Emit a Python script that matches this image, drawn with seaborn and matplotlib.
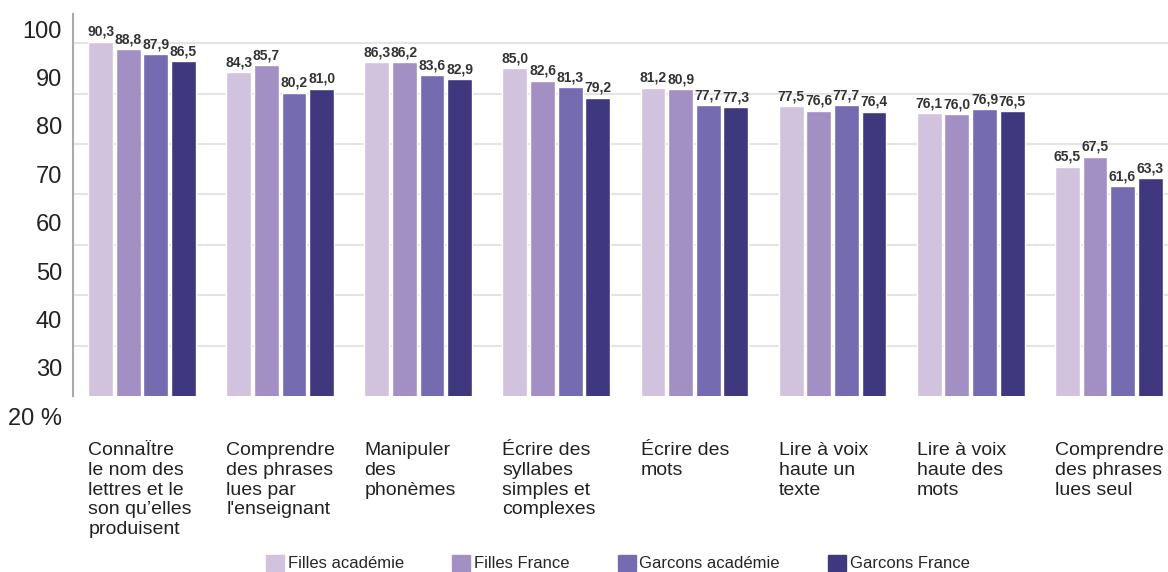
import matplotlib
matplotlib.use('Agg')
import matplotlib.pyplot as plt
import matplotlib.patches as mpatches
import seaborn as sns
import pandas as pd

categories = ["ConnaÏtre\nle nom des\nlettres et le\nson qu’elles\nproduisent",
              "Comprendre\ndes phrases\nlues par\nl'enseignant",
              "Manipuler\ndes\nphonèmes",
              "Écrire des\nsyllabes\nsimples et\ncomplexes",
              "Écrire des\nmots",
              "Lire à voix\nhaute un\ntexte",
              "Lire à voix\nhaute des\nmots",
              "Comprendre\ndes phrases\nlues seul"]
series = ["Filles académie", "Filles France", "Garcons académie", "Garcons France"]
filles_academie = [90.3, 84.3, 86.3, 85.0, 81.2, 77.5, 76.1, 65.5]
filles_france = [88.8, 85.7, 86.2, 82.6, 80.9, 76.6, 76.0, 67.5]
garcons_academie = [87.9, 80.2, 83.6, 81.3, 77.7, 77.7, 76.9, 61.6]
garcons_france = [86.5, 81.0, 82.9, 79.2, 77.3, 76.4, 76.5, 63.3]
ytick_labels = ["100", "90", "80", "70", "60", "50", "40", "30", "20 %"]
colors = ["#d1c3de", "#a28fc3", "#756bb0", "#3f387e"]

rows = []
for name, vals in zip(series, [filles_academie, filles_france, garcons_academie, garcons_france]):
  for cat, v in zip(categories, vals):
    rows.append({'cat': cat, 'serie': name, 'val': v})
df = pd.DataFrame(rows)

sns.set_style('white')
plt.rcParams['font.family'] = ['Liberation Sans', 'DejaVu Sans']

fig = plt.figure(figsize=(11.68, 5.72), dpi=100)
ax = fig.add_axes([73 / 1168, 1 - 396 / 572, 8 * 138.1 / 1168, (396 - 14) / 572])

sns.barplot(data=df, x='cat', y='val', hue='serie', hue_order=series, order=categories,
            palette=colors, width=0.8, gap=0.1, saturation=1, legend=False, ax=ax)

ax.set_xlim(-0.5, 7.5)
ax.set_ylim(20, 95.8)

for cont in ax.containers:
  ax.bar_label(cont, labels=[f"{v:.1f}".replace('.', ',') for v in cont.datavalues],
               padding=2, fontsize=10, fontweight='bold', color='#333333', clip_on=False)

# grid lines on minor ticks, labels drawn on their own (offset like the original)
ax.set_yticks([30, 40, 50, 60, 70, 80, 90], minor=True)
ax.set_yticks([])
ax.yaxis.grid(True, which='minor', color='#e4e4e4', linewidth=1.5)
ax.tick_params(axis='y', which='both', length=0)
ax.set_axisbelow(True)
for i, lab in enumerate(ytick_labels):
  ax.text(-0.01, 92.3 - 9.6 * i, lab, transform=ax.get_yaxis_transform(),
          ha='right', va='center', fontsize=17, color='#222222', clip_on=False)

ax.set_xticks([i - 0.39 for i in range(len(categories))])
ax.set_xticklabels(categories, ha='left', va='top', fontsize=14, color='#222222',
                   linespacing=1.22)
ax.tick_params(axis='x', length=0, pad=33)
ax.set_xlabel('')
ax.set_ylabel('')

for s in ['top', 'right', 'bottom']:
  ax.spines[s].set_visible(False)
ax.spines['left'].set_color('#aaaaaa')
ax.spines['left'].set_linewidth(1.5)

handles = [mpatches.Patch(color=c, label=s) for c, s in zip(colors, series)]
fig.legend(handles=handles, loc='center', bbox_to_anchor=(0.529, 1 - 563 / 572), ncol=4,
           frameon=False, fontsize=12, handlelength=1.1, handleheight=1.1,
           handletextpad=0.2, columnspacing=2.9)

plt.savefig('out.png', dpi=100)
